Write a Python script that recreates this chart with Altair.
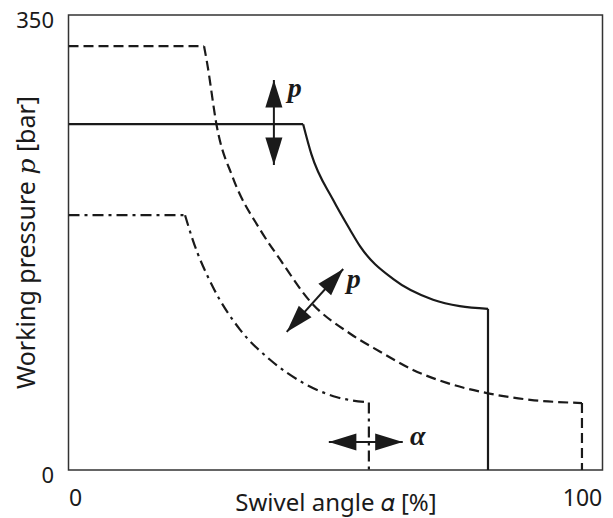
import altair as alt
import pandas as pd

# Curves (x = swivel angle %, y = pressure bar)
dashed_x = [0, 26.4, 27.0, 28.9, 32.0, 37.3, 41.2, 47.0, 54.8, 60.7, 67.1, 73.7, 81.7, 89.9, 100, 100]
dashed_y = [326, 326, 313, 264, 225, 185, 162, 130, 105, 91, 77, 67, 59, 54, 51.5, 0]

solid_x = [0, 45.7, 47.3, 51.5, 54.8, 56.8, 63.2, 71.0, 76.2, 81.7, 81.7]
solid_y = [266, 266, 243, 208, 185, 172, 147, 131, 126, 124, 0]

dashdot_x = [0, 22.7, 24.2, 28.1, 33.4, 39.2, 45.7, 52.3, 58.5, 58.5]
dashdot_y = [196, 196, 177, 141, 108, 85, 67, 56, 52, 0]

# Annotation arrows (tip-to-tip) and labels
arrow_x1 = [40.0, 42.5, 50.7]
arrow_y1 = [234.6, 106.2, 21.5]
arrow_x2 = [40.0, 53.5, 65.1]
arrow_y2 = [300.0, 154.6, 21.5]
head_x = [40.0, 40.0, 53.5, 42.5, 50.7, 65.1]
head_y = [300.0, 234.6, 154.6, 106.2, 21.5, 21.5]
head_angle = [0, 180, 42, 222, 270, 90]
label_x = [42.7, 54.2, 66.5]
label_y = [286.9, 140.0, 19.2]
label_text = ["p", "p", "α"]

x_ticks = [0, 100]
y_ticks = [0, 350]

INK = "#1a1a1a"

xs = alt.Scale(domain=[0, 104], nice=False, zero=False)
ys = alt.Scale(domain=[0, 350], nice=False, zero=False)

x_axis = alt.Axis(values=x_ticks, domain=False, ticks=False, grid=False,
                  labelFontSize=23, labelFont="Noto Sans", labelColor=INK,
                  labelPadding=17, title="Swivel angle 𝛼 [%]", titleFont="Noto Sans, Liberation Serif, DejaVu Serif",
                  titleFontSize=24, titleFontWeight="normal", titleColor=INK,
                  titleY=40, titleBaseline="alphabetic")
y_axis = alt.Axis(values=y_ticks, domain=False, ticks=False, grid=False,
                  labelFontSize=22, labelFont="Noto Sans", labelColor=INK,
                  labelPadding=15, labelBaseline="alphabetic", labelOffset=12,
                  title="Working pressure 𝑝 [bar]",
                  titleFont="Noto Sans, Liberation Serif, DejaVu Serif", titleFontSize=25,
                  titleFontWeight="normal", titleColor=INK,
                  titleX=-42, titleY=227, titleAlign="center", titleBaseline="middle", titleAngle=270)


def curve_layers(xv, yv, dash, width):
    n = len(xv)
    straight = pd.DataFrame({
        "x": [xv[0], xv[1], xv[n - 2], xv[n - 1]],
        "y": [yv[0], yv[1], yv[n - 2], yv[n - 1]],
        "seg": ["a", "a", "b", "b"],
        "i": [0, 1, 2, 3],
    })
    curve = pd.DataFrame({"x": xv[1:n - 1], "y": yv[1:n - 1], "i": range(n - 2)})
    kw = dict(color=INK, strokeWidth=width, clip=True, strokeCap="butt")
    if dash:
        kw["strokeDash"] = dash
    s = alt.Chart(straight).mark_line(**kw).encode(
        x=alt.X("x:Q", scale=xs, axis=x_axis),
        y=alt.Y("y:Q", scale=ys, axis=y_axis),
        detail="seg:N",
        order="i:Q",
    )
    c = alt.Chart(curve).mark_line(interpolate="monotone", **kw).encode(
        x=alt.X("x:Q", scale=xs),
        y=alt.Y("y:Q", scale=ys),
        order="i:Q",
    )
    return [s, c]


layers = []
layers += curve_layers(dashed_x, dashed_y, [10, 5], 2.2)
layers += curve_layers(solid_x, solid_y, None, 2.2)
layers += curve_layers(dashdot_x, dashdot_y, [11, 5, 3, 5], 2.2)

shafts = alt.Chart(pd.DataFrame({"x": arrow_x1, "y": arrow_y1, "x2": arrow_x2, "y2": arrow_y2})).mark_rule(
    color=INK, strokeWidth=2
).encode(x=alt.X("x:Q", scale=xs), y=alt.Y("y:Q", scale=ys), x2="x2:Q", y2="y2:Q")

heads = alt.Chart(pd.DataFrame({"x": head_x, "y": head_y, "a": head_angle})).mark_point(
    shape="M0,0L0.62,2L-0.62,2Z", filled=True, size=760, color=INK, opacity=1, strokeWidth=0
).encode(x=alt.X("x:Q", scale=xs), y=alt.Y("y:Q", scale=ys), angle=alt.Angle("a:Q", scale=None))

labels = alt.Chart(pd.DataFrame({"x": label_x, "y": label_y, "t": label_text})).mark_text(
    font="Liberation Serif", fontStyle="italic", fontWeight="bold", fontSize=28, color=INK,
    align="left", baseline="alphabetic"
).encode(x=alt.X("x:Q", scale=xs), y=alt.Y("y:Q", scale=ys), text="t:N")

chart = alt.layer(*layers, shafts, heads, labels).properties(
    width=534, height=455,
    autosize=alt.AutoSizeParams(type="none"),
    padding={"left": 60.5, "top": 7, "right": 2, "bottom": 48},
).configure_view(stroke="#333", strokeWidth=1.5)

chart.save("out.html", embed_options={"renderer": "svg", "actions": False})
